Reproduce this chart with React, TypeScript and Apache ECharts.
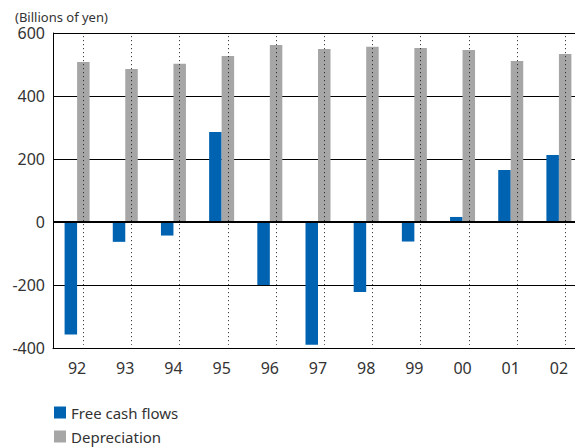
import React, { useEffect, useRef } from "react";
import * as echarts from "echarts";

const categories = ["92", "93", "94", "95", "96", "97", "98", "99", "00", "01", "02"];
const freeCashFlows = [-357, -63, -43, 286, -200, -390, -222, -62, 16, 165, 213];
const depreciation = [508, 486, 502, 527, 562, 549, 556, 552, 546, 511, 533];
const yTicks = { min: -400, max: 600, interval: 200 };

const FONT = "'Noto Sans', sans-serif";

export default function App() {
  const ref = useRef<HTMLDivElement>(null);
  useEffect(() => {
    if (!ref.current) return;
    const chart = echarts.init(ref.current, undefined, { renderer: "svg" });
    const legendBase = {
      orient: "horizontal",
      left: 41,
      itemWidth: 12,
      itemHeight: 12,
      icon: "rect",
      textStyle: { fontSize: 15, color: "#333", fontFamily: FONT },
    };
    chart.setOption({
      animation: false,
      textStyle: { fontFamily: FONT },
      title: {
        text: "(Billions of yen)",
        left: 2,
        top: 0,
        padding: [1, 5, 0, 5],
        textStyle: { fontSize: 13, lineHeight: 15, fontWeight: "normal", color: "#333", fontFamily: FONT },
      },
      legend: [
        { ...legendBase, top: 392, data: ["Free cash flows"] },
        { ...legendBase, top: 416, data: ["Depreciation"] },
      ],
      grid: { left: 45, right: -8, top: 25, bottom: 100, containLabel: false },
      xAxis: {
        type: "category",
        data: categories,
        axisLine: { onZero: false, lineStyle: { color: "#000", width: 1 } },
        axisTick: { show: false },
        axisLabel: { fontSize: 16, color: "#333", margin: 12, fontFamily: FONT },
        splitLine: { show: false },
      },
      yAxis: {
        type: "value",
        min: yTicks.min,
        max: yTicks.max,
        interval: yTicks.interval,
        axisLine: { show: true, lineStyle: { color: "#000", width: 1 } },
        axisTick: { show: false },
        axisLabel: { fontSize: 16, lineHeight: 14, color: "#333", margin: 8, fontFamily: FONT },
        splitLine: { show: true, lineStyle: { color: "#000", width: 1 } },
      },
      series: [
        {
          name: "Free cash flows",
          type: "bar",
          data: freeCashFlows,
          barWidth: 12.5,
          barGap: "0%",
          itemStyle: { color: "#0063b1" },
          markLine: {
            silent: true,
            symbol: "none",
            label: { show: false },
            lineStyle: { color: "#000", width: 2, type: "solid" },
            data: [{ yAxis: 0 }],
          },
        },
        {
          name: "Depreciation",
          type: "bar",
          data: depreciation,
          barWidth: 12.5,
          barGap: "0%",
          itemStyle: { color: "#a6a6a6" },
          markLine: {
            silent: true,
            symbol: "none",
            label: { show: false },
            lineStyle: { color: "#222", width: 1, type: [1, 3] },
            data: categories.map((c) => [
              { coord: [c, 590] },
              { coord: [c, -390] },
            ]),
          },
        },
      ],
    });
    return () => chart.dispose();
  }, []);
  return <div ref={ref} style={{ width: 575, height: 440 }} />;
}
